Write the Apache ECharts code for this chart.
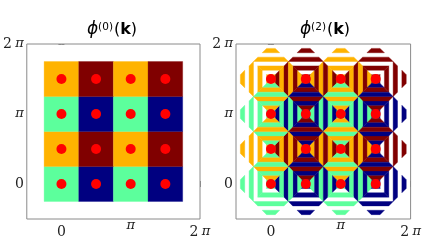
<!DOCTYPE html>
<html><head><meta charset="utf-8">
<script src="https://cdn.jsdelivr.net/npm/echarts@6/dist/echarts.min.js"></script>
<style>html,body{margin:0;padding:0;background:#fff}#c{width:424px;height:247px}</style>
</head><body><div id="c"></div>
<script>
// ---- data (k values in units of pi) ----
const kxCenters = [0, 0.5, 1, 1.5];
const kyCenters = [0, 0.5, 1, 1.5];
// phi0 level per cell, rows from ky=0 upward (0 navy, 1 green, 2 orange, 3 dark red)
const phi0Rows = [
  [1, 0, 1, 0],
  [2, 3, 2, 3],
  [1, 0, 1, 0],
  [2, 3, 2, 3]
];
const levelColors = ['#000080', '#5cff9c', '#ffb300', '#800000'];
const tickValues = [0, 1, 2];
const tickLabels = ['0', 'π', '2 π'];
const axisMin = -0.5, axisMax = 2;
// phi2: concentric band edges (Chebyshev radius, units of pi) and source (0 = own cell, 1 = neighbour)
const bandEdges = [0, 1/16, 2/16, 3/16, 4/16];
const bandSource = [0, 1, 0, 1];

// ---- build ----
const step = kxCenters[1] - kxCenters[0];
const half = step / 2;
function lvl(ix, iy) { if (ix < 0 || iy < 0 || ix > 3 || iy > 3) return null; return phi0Rows[iy][ix]; }
const cellData = [], dotData = [];
for (let iy = 0; iy < 4; iy++) for (let ix = 0; ix < 4; ix++) {
  cellData.push([kxCenters[ix], kyCenters[iy], phi0Rows[iy][ix]]);
  dotData.push([kxCenters[ix], kyCenters[iy]]);
}
const dirs = [[1, 0], [0, 1], [-1, 0], [0, -1]];
const bandData = [];
for (let iy = -1; iy <= 4; iy++) for (let ix = -1; ix <= 4; ix++) {
  const own = lvl(ix, iy);
  const cx = kxCenters[0] + ix * step, cy = kyCenters[0] + iy * step;
  dirs.forEach((d, s) => {
    const nb = lvl(ix + d[0], iy + d[1]);
    bandSource.forEach((src, b) => {
      const c = src ? nb : own;
      if (c !== null) bandData.push([cx, cy, s, b, c]);
    });
  });
}

function renderCell(params, api) {
  const x = api.value(0), y = api.value(1);
  const p0 = api.coord([x - half, y + half]), p1 = api.coord([x + half, y - half]);
  const col = levelColors[api.value(2)];
  return { type: 'rect', shape: { x: p0[0], y: p0[1], width: p1[0] - p0[0], height: p1[1] - p0[1] },
    style: { fill: col, stroke: col, lineWidth: 0.3 } };
}
function renderBand(params, api) {
  const cx = api.value(0), cy = api.value(1), s = api.value(2), b = api.value(3);
  const d = dirs[s], ux = d[0], uy = d[1], vx = -uy, vy = ux;
  const ra = bandEdges[b], rb = bandEdges[b + 1];
  const pts = [[ra, -ra], [rb, -rb], [rb, rb], [ra, ra]].map(([r, t]) => api.coord([cx + r * ux + t * vx, cy + r * uy + t * vy]));
  const col = levelColors[api.value(4)];
  return { type: 'polygon', shape: { points: pts }, style: { fill: col, stroke: col, lineWidth: 0.4 } };
}

const labelRich = {
  n: { fontFamily: 'DejaVu Serif', fontSize: 14, color: '#222' },
  p: { fontFamily: 'DejaVu Serif', fontSize: 13, fontStyle: 'italic', color: '#222' },
  pt: { fontFamily: 'DejaVu Serif', fontSize: 13, fontStyle: 'italic', color: '#222', lineHeight: 2 }
};
function fmtX(v) {
  const t = tickLabels[tickValues.indexOf(Math.round(v))] || '';
  if (t === '0') return '{n|0}';
  if (t === 'π') return '{pt|π}';
  return '{n|2} {p|π}';
}
function fmtY(v) {
  const t = tickLabels[tickValues.indexOf(Math.round(v))] || '';
  if (t === '0') return '{n|0}';
  if (t === 'π') return '{p|π}';
  return '{n|2} {p|π}';
}
const frame = '#8a8a8a';
function xAx(gi, pos, showLabel) {
  return { type: 'value', gridIndex: gi, position: pos, min: axisMin, max: axisMax,
    axisLine: { show: false }, splitLine: { show: false },
    axisTick: { show: true, inside: true, length: 3, customValues: tickValues, lineStyle: { color: frame } },
    axisLabel: { show: showLabel, customValues: tickValues, margin: 6, formatter: fmtX, rich: labelRich } };
}
function yAx(gi, pos, showLabel) {
  return { type: 'value', gridIndex: gi, position: pos, min: axisMin, max: axisMax,
    axisLine: { show: false }, splitLine: { show: false },
    axisTick: { show: true, inside: true, length: 3, customValues: tickValues, lineStyle: { color: frame } },
    axisLabel: { show: showLabel, customValues: tickValues, margin: 3, formatter: fmtY, rich: labelRich } };
}

const titleRich = {
  f: { fontFamily: 'DejaVu Sans', fontStyle: 'italic', fontSize: 17, color: '#111' },
  s: { fontFamily: 'DejaVu Sans', fontSize: 10.5, color: '#111', verticalAlign: 'top', padding: [0, 1, 0, 0] },
  p: { fontFamily: 'DejaVu Sans', fontSize: 16, color: '#111' },
  k: { fontFamily: 'DejaVu Sans', fontWeight: 'bold', fontSize: 16, color: '#111' }
};

const option = {
  animation: false,
  backgroundColor: '#fff',
  grid: [
    { left: 25, top: 44, width: 175, height: 175, show: true, borderColor: frame, borderWidth: 1, backgroundColor: 'transparent' },
    { left: 236, top: 44, width: 175, height: 175, show: true, borderColor: frame, borderWidth: 1, backgroundColor: 'transparent' }
  ],
  xAxis: [xAx(0, 'bottom', true), xAx(0, 'top', false), xAx(1, 'bottom', true), xAx(1, 'top', false)],
  yAxis: [yAx(0, 'left', true), yAx(0, 'right', false), yAx(1, 'left', true), yAx(1, 'right', false)],
  graphic: [
    { type: 'text', x: 112, y: 30, style: { text: '{f|ϕ}{s|(0)}{p|(}{k|k}{p|)}', align: 'center', verticalAlign: 'middle', rich: titleRich } },
    { type: 'text', x: 325, y: 30, style: { text: '{f|ϕ}{s|(2)}{p|(}{k|k}{p|)}', align: 'center', verticalAlign: 'middle', rich: titleRich } }
  ],
  series: [
    { type: 'custom', xAxisIndex: 0, yAxisIndex: 0, data: cellData, renderItem: renderCell, encode: { x: 0, y: 1 }, silent: true, z: 1 },
    { type: 'scatter', xAxisIndex: 0, yAxisIndex: 0, data: dotData, symbolSize: 10, itemStyle: { color: '#ff0000', opacity: 1 }, silent: true, z: 3 },
    { type: 'custom', xAxisIndex: 2, yAxisIndex: 2, data: bandData, renderItem: renderBand, encode: { x: 0, y: 1 }, silent: true, z: 1 },
    { type: 'scatter', xAxisIndex: 2, yAxisIndex: 2, data: dotData, symbolSize: 10, itemStyle: { color: '#ff0000', opacity: 1 }, silent: true, z: 3 }
  ]
};
const chart = echarts.init(document.getElementById('c'));
chart.setOption(option);
</script>
</body></html>
